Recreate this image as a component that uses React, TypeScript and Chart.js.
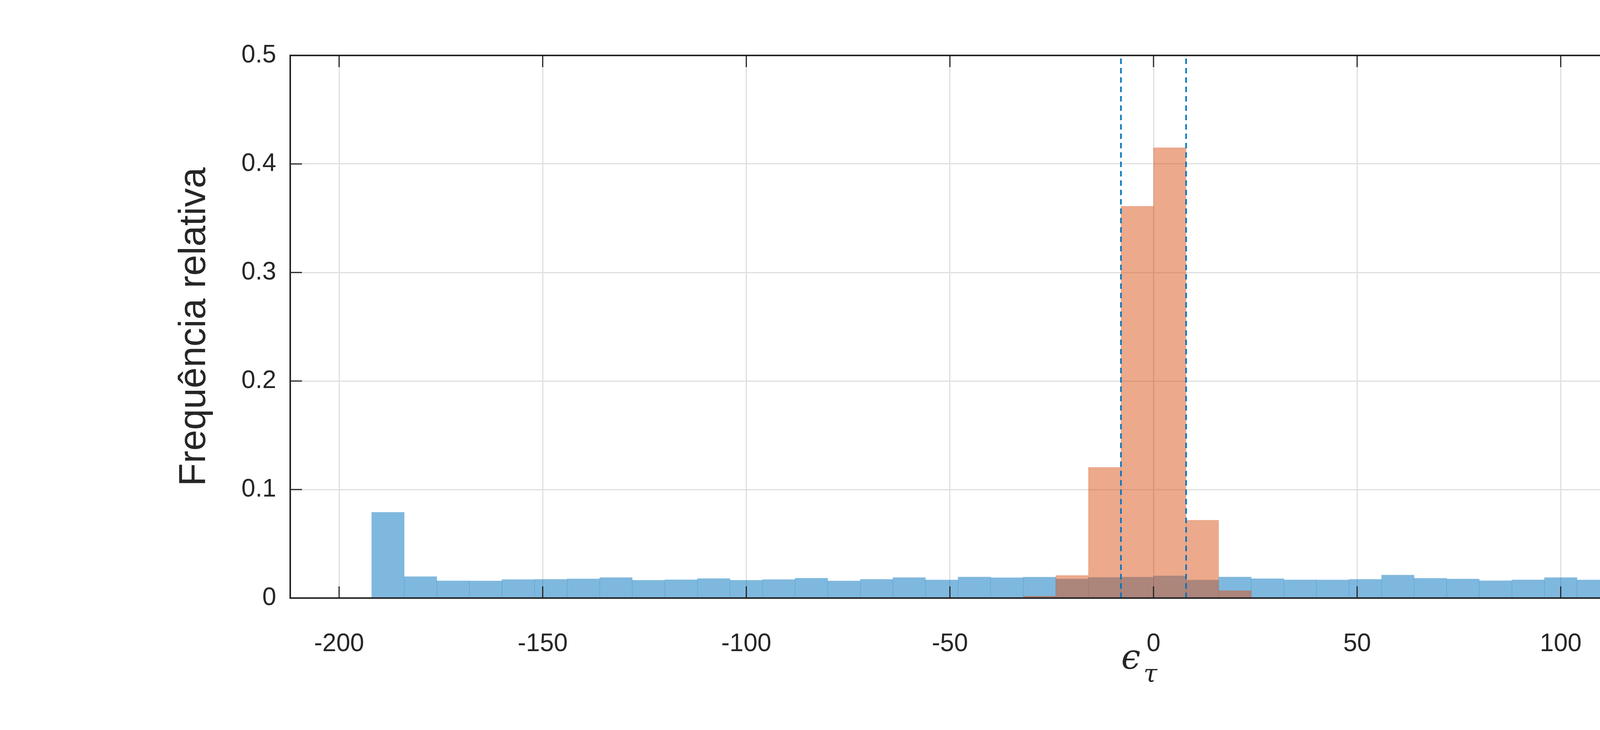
import React, { useEffect, useRef } from 'react';
import Chart from 'chart.js/auto';

// bin centres, width 8, from -192 to 192
const binCenters: number[] = [
  -188, -180, -172, -164, -156, -148, -140, -132, -124, -116, -108, -100,
  -92, -84, -76, -68, -60, -52, -44, -36, -28, -20, -12, -4,
  4, 12, 20, 28, 36, 44, 52, 60, 68, 76, 84, 92,
  100, 108, 116, 124, 132, 140, 148, 156, 164, 172, 180, 188,
];

const efValues: number[] = [
  0.079, 0.0198, 0.0159, 0.0158, 0.0171, 0.0172, 0.0177, 0.0189, 0.0164, 0.0169, 0.018, 0.0164,
  0.0171, 0.0183, 0.0158, 0.0172, 0.0189, 0.0167, 0.0194, 0.0188, 0.0193, 0.0176, 0.019, 0.0193,
  0.0205, 0.0166, 0.0194, 0.0179, 0.0168, 0.0167, 0.0172, 0.0212, 0.0182, 0.0176, 0.016, 0.0168,
  0.0189, 0.0167, 0.0176, 0.0182, 0.0175, 0.0182, 0.0164, 0.0172, 0.0171, 0.0182, 0.0175, 0.076,
];

const patvValues: number[] = [
  0, 0, 0, 0, 0, 0, 0, 0, 0, 0, 0, 0,
  0, 0, 0, 0, 0, 0, 0, 0, 0.0018, 0.0208, 0.1205, 0.361,
  0.415, 0.0717, 0.0068, 0, 0, 0, 0, 0, 0, 0, 0, 0,
  0, 0, 0, 0, 0, 0, 0, 0, 0, 0, 0, 0,
];

const xTicks: number[] = [-200, -150, -100, -50, 0, 50, 100, 150, 200];
const yTicks: number[] = [0, 0.1, 0.2, 0.3, 0.4, 0.5];
const thresholds: number[] = [-8, 8];
const seriesLabels: string[] = ['EF', 'EF-PATV'];

const W = 5680;
const H = 1870;
const LEFT = 743;
const RIGHT = 5163;
const TOP = 142;
const BOTTOM = 1532;
const FONT = 'Arial, "Liberation Sans", Helvetica, sans-serif';
const EF_COLOR = 'rgba(0,114,189,0.5)';
const PATV_COLOR = 'rgba(217,83,25,0.5)';

const framePlugin = {
  id: 'frame',
  afterDraw(chart: any) {
    const { ctx, chartArea: a, scales } = chart;
    ctx.save();
    ctx.strokeStyle = '#262626';
    ctx.lineWidth = 4;
    ctx.strokeRect(a.left, a.top, a.right - a.left, a.bottom - a.top);
    const tl = 30;
    ctx.lineWidth = 3;
    ctx.beginPath();
    xTicks.forEach(v => {
      const x = scales.x.getPixelForValue(v);
      ctx.moveTo(x, a.bottom); ctx.lineTo(x, a.bottom - tl);
      ctx.moveTo(x, a.top); ctx.lineTo(x, a.top + tl);
    });
    yTicks.forEach(v => {
      const y = scales.y.getPixelForValue(v);
      ctx.moveTo(a.left, y); ctx.lineTo(a.left + tl, y);
      ctx.moveTo(a.right, y); ctx.lineTo(a.right - tl, y);
    });
    ctx.stroke();

    ctx.fillStyle = '#262626';
    ctx.textAlign = 'center';
    ctx.textBaseline = 'middle';
    ctx.save();
    ctx.translate(499, (a.top + a.bottom) / 2);
    ctx.rotate(-Math.PI / 2);
    ctx.font = `96px ${FONT}`;
    ctx.fillText('Frequência relativa', 0, 0);
    ctx.restore();
    ctx.font = `italic 88px "DejaVu Serif", serif`;
    ctx.fillText('ϵ', 2895, 1690);
    ctx.font = `italic 64px "DejaVu Serif", serif`;
    ctx.fillText('τ', 2945, 1730);

    const lx = 4260, ly = 226, lw = 867, lh = 327;
    ctx.fillStyle = '#ffffff';
    ctx.fillRect(lx, ly, lw, lh);
    ctx.strokeStyle = '#262626';
    ctx.lineWidth = 3;
    ctx.strokeRect(lx, ly, lw, lh);
    const colors = [EF_COLOR, PATV_COLOR];
    ctx.font = `100px ${FONT}`;
    ctx.textAlign = 'left';
    seriesLabels.forEach((t, i) => {
      const sy = 248 + i * 152;
      ctx.fillStyle = colors[i];
      ctx.fillRect(4286, sy, 247, 127);
      ctx.fillStyle = '#000000';
      ctx.fillText(t, 4560, sy + 66);
    });
    ctx.restore();
  },
};

export default function App() {
  const canvasRef = useRef<HTMLCanvasElement>(null);
  const chartRef = useRef<Chart>();

  useEffect(() => {
    document.body.style.margin = '0';
    if (!canvasRef.current) return;
    if (chartRef.current) chartRef.current.destroy();
    const ctx = canvasRef.current.getContext('2d');
    if (!ctx) return;

    const lineData = thresholds.map(t => [
      { x: t, y: 0 },
      { x: t, y: 0.5 },
    ]);

    chartRef.current = new Chart(ctx, {
      type: 'bar',
      data: {
        datasets: [
          ...lineData.map(d => ({
            type: 'line' as const,
            data: d,
            borderColor: '#0072bd',
            borderWidth: 4,
            borderDash: [14, 10],
            pointRadius: 0,
            order: 0,
          })),
          {
            label: seriesLabels[1],
            data: binCenters.map((x, i) => ({ x, y: patvValues[i] })),
            backgroundColor: PATV_COLOR,
            barPercentage: 1,
            categoryPercentage: 1,
            grouped: false,
            order: 1,
          },
          {
            label: seriesLabels[0],
            data: binCenters.map((x, i) => ({ x, y: efValues[i] })),
            backgroundColor: EF_COLOR,
            barPercentage: 1,
            categoryPercentage: 1,
            grouped: false,
            order: 2,
          },
        ] as any,
      },
      options: {
        responsive: false,
        maintainAspectRatio: false,
        animation: false,
        layout: { padding: { top: TOP, right: W - RIGHT, left: 0, bottom: 0 } },
        plugins: { legend: { display: false }, tooltip: { enabled: false } },
        scales: {
          x: {
            type: 'linear',
            offset: false,
            min: -212,
            max: 212,
            afterBuildTicks: (s: any) => { s.ticks = xTicks.map(v => ({ value: v })); },
            afterFit: (s: any) => { s.height = H - BOTTOM; },
            grid: { color: '#dfdfdf', lineWidth: 3, drawTicks: false, offset: false },
            border: { display: false },
            ticks: { color: '#262626', font: { size: 64, family: FONT }, padding: 80, maxRotation: 0 },
          },
          y: {
            min: 0,
            max: 0.5,
            afterBuildTicks: (s: any) => { s.ticks = yTicks.map(v => ({ value: v })); },
            afterFit: (s: any) => { s.width = LEFT; },
            grid: { color: '#dfdfdf', lineWidth: 3, drawTicks: false },
            border: { display: false },
            ticks: {
              color: '#262626',
              font: { size: 64, family: FONT },
              padding: 36,
              callback: (v: any) => String(Number(v)),
            },
          },
        },
      },
      plugins: [framePlugin],
    });

    return () => {
      if (chartRef.current) chartRef.current.destroy();
    };
  }, []);

  return (
    <div style={{ width: W, height: H, overflow: 'hidden' }}>
      <canvas
        ref={canvasRef}
        width={W}
        height={H}
        style={{ display: 'block', width: W + 'px', height: H + 'px', background: '#fff' }}
      />
    </div>
  );
}
